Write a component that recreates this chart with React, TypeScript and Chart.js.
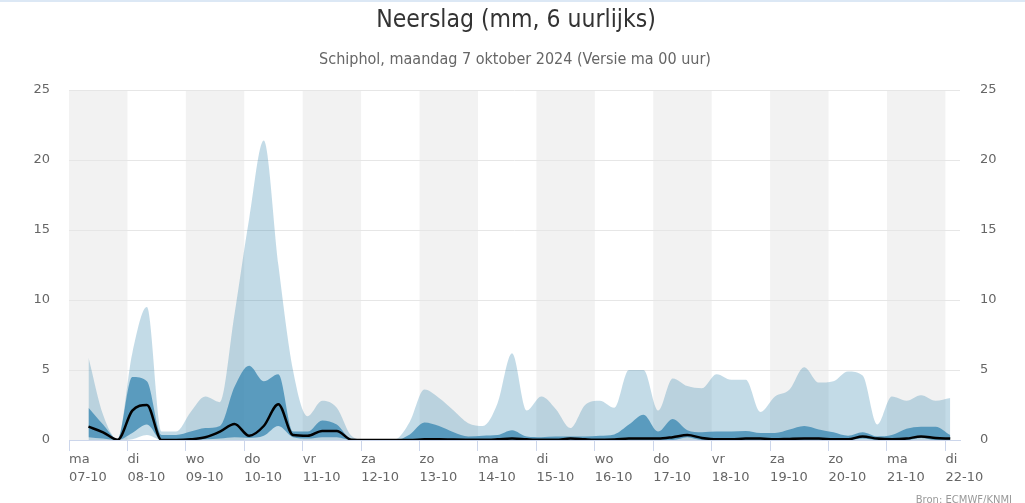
import React, { useEffect, useRef } from "react";
import { Chart, registerables } from "chart.js";

Chart.register(...registerables);

// Hours since maandag 07-10 00:00 (end of each 6-hour accumulation period)
const hours = [
  8, 14, 20, 26, 32, 38, 44, 50, 56, 62,
  68, 74, 80, 86, 92, 98, 104, 110, 116, 122,
  128, 134, 140, 146, 152, 158, 164, 170, 176, 182,
  188, 194, 200, 206, 212, 218, 224, 230, 236, 242,
  248, 254, 260, 266, 272, 278, 284, 290, 296, 302,
  308, 314, 320, 326, 332, 338, 344, 350, 356, 362,
];

// Ensemble maximum (upper edge of light band)
const maxMm = [
  5.9, 1.8, 0.05, 6.2, 9.5, 0.6, 0.6, 2.0, 3.1, 2.7,
  9.0, 15.8, 21.4, 12.5, 5.0, 1.7, 2.8, 2.3, 0.3, 0,
  0, 0.05, 1.3, 3.6, 3.0, 2.1, 1.2, 1.0, 2.6, 6.2,
  2.1, 3.1, 2.2, 0.85, 2.5, 2.8, 2.3, 5.0, 5.0, 2.1,
  4.4, 3.85, 3.7, 4.7, 4.3, 4.3, 2.0, 3.1, 3.6, 5.2,
  4.1, 4.2, 4.9, 4.6, 1.1, 3.1, 2.8, 3.2, 2.8, 3.0,
];

// Ensemble minimum (lower edge of light band)
const minMm = [
  0, 0, 0, 0.05, 0.35, 0, 0, 0, 0, 0,
  0, 0, 0, 0, 0, 0, 0, 0, 0, 0,
  0, 0, 0, 0, 0, 0, 0, 0, 0, 0,
  0, 0, 0, 0, 0, 0, 0, 0, 0, 0,
  0, 0, 0, 0, 0, 0, 0, 0, 0, 0,
  0, 0, 0, 0, 0, 0, 0, 0, 0, 0,
];

// 75th percentile (upper edge of dark band)
const p75Mm = [
  2.3, 1.1, 0.05, 4.5, 4.2, 0.35, 0.35, 0.6, 0.85, 1.0,
  3.8, 5.3, 4.2, 4.7, 0.6, 0.6, 1.4, 1.1, 0.05, 0,
  0, 0, 0.4, 1.25, 1.0, 0.55, 0.25, 0.3, 0.35, 0.7,
  0.25, 0.2, 0.25, 0.25, 0.25, 0.3, 0.4, 1.1, 1.8, 0.6,
  1.5, 0.7, 0.55, 0.6, 0.6, 0.65, 0.5, 0.5, 0.75, 1.0,
  0.75, 0.55, 0.3, 0.55, 0.25, 0.35, 0.8, 0.95, 0.95, 0.35,
];

// 25th percentile (lower edge of dark band)
const p25Mm = [
  0.2, 0.1, 0, 0.5, 1.1, 0, 0, 0, 0.05, 0.1,
  0.2, 0.15, 0.3, 1.0, 0.2, 0.1, 0.2, 0.2, 0, 0,
  0, 0, 0, 0, 0, 0, 0, 0, 0, 0,
  0, 0, 0, 0, 0, 0, 0, 0, 0, 0,
  0, 0.2, 0, 0, 0, 0, 0, 0, 0, 0,
  0, 0, 0, 0.1, 0, 0, 0, 0.15, 0, 0,
];

// Median (black line)
const medianMm = [
  0.95, 0.55, 0.02, 2.1, 2.5, 0, 0, 0.05, 0.2, 0.6,
  1.15, 0.3, 1.0, 2.55, 0.35, 0.3, 0.65, 0.65, 0.02, 0,
  0, 0, 0, 0.05, 0.05, 0.03, 0.02, 0.02, 0.05, 0.1,
  0.05, 0.02, 0.02, 0.1, 0.05, 0.02, 0.03, 0.1, 0.1, 0.1,
  0.2, 0.35, 0.15, 0.05, 0.05, 0.1, 0.1, 0.05, 0.08, 0.1,
  0.1, 0.05, 0.05, 0.25, 0.1, 0.05, 0.1, 0.25, 0.15, 0.1,
];

const tickHours = [0, 24, 48, 72, 96, 120, 144, 168, 192, 216, 240, 264, 288, 312, 336, 360];
const dayNames = ["ma", "di", "wo", "do", "vr", "za", "zo", "ma", "di", "wo", "do", "vr", "za", "zo", "ma", "di"];
const dayDates = [
  "07-10", "08-10", "09-10", "10-10", "11-10", "12-10", "13-10", "14-10",
  "15-10", "16-10", "17-10", "18-10", "19-10", "20-10", "21-10", "22-10",
];
const shadedDayStarts = [0, 48, 96, 144, 192, 240, 288, 336];

const titleText = "Neerslag (mm, 6 uurlijks)";
const subtitleText = "Schiphol, maandag 7 oktober 2024 (Versie ma 00 uur)";
const creditText = "Bron: ECMWF/KNMI";

const W = 1025;
const H = 503;
const TICK_FONT = { family: "'DejaVu Sans', sans-serif", size: 13, lineHeight: 1.415 };

const toPoints = (arr: number[]) => hours.map((h, i) => ({ x: h, y: arr[i] }));

const decorPlugin = {
  id: "decor",
  beforeDraw(chart: any) {
    const { ctx, chartArea, scales } = chart;
    const { top, bottom, right } = chartArea;
    const x = scales.x;
    ctx.save();
    ctx.fillStyle = "#ffffff";
    ctx.fillRect(0, 0, chart.width, chart.height);
    ctx.fillStyle = "#dce8f5";
    ctx.fillRect(0, 0, chart.width, 2);
    ctx.fillStyle = "#f2f2f2";
    for (const d of shadedDayStarts) {
      const x0 = x.getPixelForValue(d);
      const x1 = Math.min(right, x.getPixelForValue(d + 24));
      ctx.fillRect(x0, top, x1 - x0, bottom - top);
    }
    ctx.textAlign = "center";
    ctx.textBaseline = "middle";
    ctx.fillStyle = "#333333";
    ctx.font = "24.5px 'Liberation Sans Narrow', 'DejaVu Sans Condensed', sans-serif";
    ctx.fillText(titleText, 516, 21);
    ctx.fillStyle = "#666666";
    ctx.font = "16px 'Liberation Sans Narrow', 'DejaVu Sans Condensed', sans-serif";
    ctx.fillText(subtitleText, 515, 60);
    ctx.textAlign = "right";
    ctx.textBaseline = "alphabetic";
    ctx.fillStyle = "#999999";
    ctx.font = "10px 'DejaVu Sans', sans-serif";
    ctx.fillText(creditText, 1012, 503);
    ctx.restore();
  },
};

export default function App() {
  const ref = useRef<HTMLCanvasElement | null>(null);

  useEffect(() => {
    if (!ref.current) return;
    const common = {
      pointRadius: 0,
      pointHoverRadius: 0,
      cubicInterpolationMode: "monotone" as const,
    };
    const chart = new Chart(ref.current, {
      type: "line",
      data: {
        datasets: [
          {
            label: "Mediaan",
            data: toPoints(medianMm),
            borderColor: "#000000",
            borderWidth: 2.5,
            fill: false,
            ...common,
          },
          {
            label: "75%",
            data: toPoints(p75Mm),
            borderColor: "rgba(0,0,0,0)",
            borderWidth: 0,
            backgroundColor: "rgba(55,134,176,0.75)",
            fill: "+1",
            ...common,
          },
          {
            label: "25%",
            data: toPoints(p25Mm),
            borderColor: "rgba(0,0,0,0)",
            borderWidth: 0,
            fill: false,
            ...common,
          },
          {
            label: "Max",
            data: toPoints(maxMm),
            borderColor: "rgba(0,0,0,0)",
            borderWidth: 0,
            backgroundColor: "rgba(55,135,175,0.3)",
            fill: "+1",
            ...common,
          },
          {
            label: "Min",
            data: toPoints(minMm),
            borderColor: "rgba(0,0,0,0)",
            borderWidth: 0,
            fill: false,
            ...common,
          },
        ],
      },
      options: {
        responsive: false,
        animation: false,
        devicePixelRatio: 1,
        layout: { padding: { top: 90, left: 0, right: 0, bottom: 0 } },
        plugins: {
          legend: { display: false },
          tooltip: { enabled: false },
          title: { display: false },
        },
        scales: {
          x: {
            type: "linear",
            position: "bottom",
            min: 0,
            max: 366,
            afterBuildTicks: (s: any) => {
              s.ticks = tickHours.map((v) => ({ value: v }));
            },
            afterFit: (s: any) => {
              s.height = 63;
            },
            grid: {
              drawOnChartArea: false,
              drawTicks: true,
              tickLength: 11,
              tickColor: "#ccd6eb",
              tickWidth: 1,
            },
            border: { display: true, color: "#ccd6eb", width: 1 },
            ticks: {
              autoSkip: false,
              maxRotation: 0,
              minRotation: 0,
              align: "start",
              padding: -1,
              color: "#666666",
              font: TICK_FONT,
              callback: (value: any) => {
                const i = tickHours.indexOf(Number(value));
                return i < 0 ? "" : [dayNames[i], dayDates[i]];
              },
            },
          },
          y: {
            position: "left",
            min: 0,
            max: 25,
            afterFit: (s: any) => {
              s.width = 69;
            },
            grid: {
              color: (c: any) => (c.tick && c.tick.value === 0 ? "rgba(0,0,0,0)" : "#e6e6e6"),
              drawTicks: false,
            },
            border: { display: false },
            ticks: { stepSize: 5, padding: 19, color: "#666666", font: TICK_FONT },
          },
          y2: {
            position: "right",
            min: 0,
            max: 25,
            afterFit: (s: any) => {
              s.width = 65;
            },
            grid: { drawOnChartArea: false, drawTicks: false },
            border: { display: false },
            ticks: { stepSize: 5, padding: 20, color: "#666666", font: TICK_FONT },
          },
        },
      },
      plugins: [decorPlugin],
    });
    return () => chart.destroy();
  }, []);

  return (
    <div style={{ position: "absolute", left: 0, top: 0, width: W, height: H, background: "#fff" }}>
      <canvas ref={ref} width={W} height={H} style={{ display: "block", width: W, height: H }} />
    </div>
  );
}
